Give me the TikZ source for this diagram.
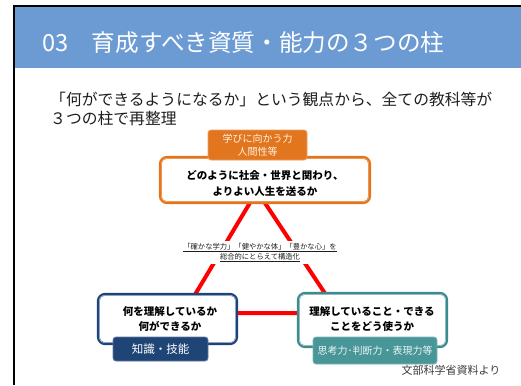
\documentclass[tikz,border=0pt]{standalone}
\usepackage{fontspec}
\newfontfamily\jp{Noto Sans CJK JP}
\definecolor{hdr}{RGB}{108,155,212}
\definecolor{orng}{RGB}{226,118,31}
\definecolor{orngL}{RGB}{240,150,80}
\definecolor{navy}{RGB}{31,68,118}
\definecolor{navyL}{RGB}{140,165,200}
\definecolor{teal}{RGB}{62,138,142}
\definecolor{tealL}{RGB}{140,190,192}
\definecolor{tealF}{RGB}{72,150,152}
\definecolor{txt}{RGB}{30,30,30}
\begin{document}
\begin{tikzpicture}[x=1pt,y=-1pt,
  outerbox/.style={draw=#1, line width=2.2pt, rounded corners=7pt, fill=white, inner sep=0pt},
  labbox/.style={fill=#1, draw=#1!70!white, line width=0.8pt, rounded corners=3pt, inner sep=0pt, align=center},
  boldtxt/.style={font=\jp\bfseries\fontsize{10.5}{16}\selectfont, align=center, text=black, inner sep=0pt}
]
\useasboundingbox (0,0) rectangle (521,385);
\fill[white] (0,0) rectangle (521,385);
\fill[hdr] (14,7) rectangle (521,68);
\draw[line width=2pt] (13.5,385) -- (13.5,6) -- (521,6);

\node[anchor=base west, inner sep=0pt, text=white, font=\jp\fontsize{23.6}{27}\selectfont] (title) at (42,52) {03　育成すべき資質・能力の３つの柱};
\node[anchor=base west, inner sep=0pt, text=txt, font=\jp\fontsize{15.8}{18}\selectfont] (sub1) at (50,106) {「何ができるようになるか」という観点から、全ての教科等が};
\node[anchor=base west, inner sep=0pt, text=txt, font=\jp\fontsize{15.8}{18}\selectfont] (sub2) at (50,124) {３つの柱で再整理};

% red triangle
\coordinate (tA) at (257,191);
\coordinate (tL) at (184,313);
\coordinate (tR) at (338,313);
\draw[red, line width=4pt, line join=round] (tA) -- (tL) -- (tR) -- cycle;

% top box
\node[outerbox=orng, minimum width=210pt, minimum height=46pt] (top) at (265,180) {};
\draw[orngL, line width=0.8pt, rounded corners=5pt] ([shift={(2.6,2.6)}]top.north west) rectangle ([shift={(-2.6,-2.6)}]top.south east);
\node[boldtxt] (toptxt) at (265,183.5) {どのように社会・世界と関わり、\\よりよい人生を送るか};
\node[labbox=orng, minimum width=99pt, minimum height=30pt, text={rgb,255:red,255;green,242;blue,228}, font=\jp\fontsize{10}{13}\selectfont] (toplab) at (257.5,145) {学びに向かう力\\人間性等};

% left box
\node[outerbox=navy, minimum width=139pt, minimum height=50pt] (lbox) at (167.5,319) {};
\draw[navyL, line width=0.8pt, rounded corners=5pt] ([shift={(2.6,2.6)}]lbox.north west) rectangle ([shift={(-2.6,-2.6)}]lbox.south east);
\node[boldtxt, font=\jp\bfseries\fontsize{10.5}{15}\selectfont] (ltxt) at (170,319.5) {何を理解しているか\\何ができるか};
\node[labbox=navy, minimum width=95pt, minimum height=24pt, text=white, font=\jp\fontsize{11.5}{13}\selectfont] (llab) at (160.5,349) {知識・技能};

% right box
\node[outerbox=teal, minimum width=149pt, minimum height=54pt] (rbox) at (372.5,320) {};
\draw[tealL, line width=0.8pt, rounded corners=5pt] ([shift={(2.6,2.6)}]rbox.north west) rectangle ([shift={(-2.6,-2.6)}]rbox.south east);
\node[boldtxt, font=\jp\bfseries\fontsize{10.5}{15}\selectfont] (rtxt) at (372,319.5) {理解していること・できる\\ことをどう使うか};
\node[labbox=tealF, minimum width=124pt, minimum height=27pt, text={rgb,255:red,235;green,245;blue,245}, font=\jp\fontsize{10}{12}\selectfont] (rlab) at (375,350.5) {思考力･判断力・表現力等};

% centre text
\node[font=\jp\fontsize{7.3}{9.5}\selectfont, align=center, inner sep=2pt, fill=white, text=txt] (mid) at (260,252.5) {\underline{「確かな学力」「健やかな体」「豊かな心」を}\\\underline{総合的にとらえて構造化}};

% source
\node[font=\jp\fontsize{11}{13}\selectfont, text={rgb,255:red,60;green,60;blue,60}, inner sep=0pt] (src) at (451,370) {文部科学省資料より};
\end{tikzpicture}
\end{document}
